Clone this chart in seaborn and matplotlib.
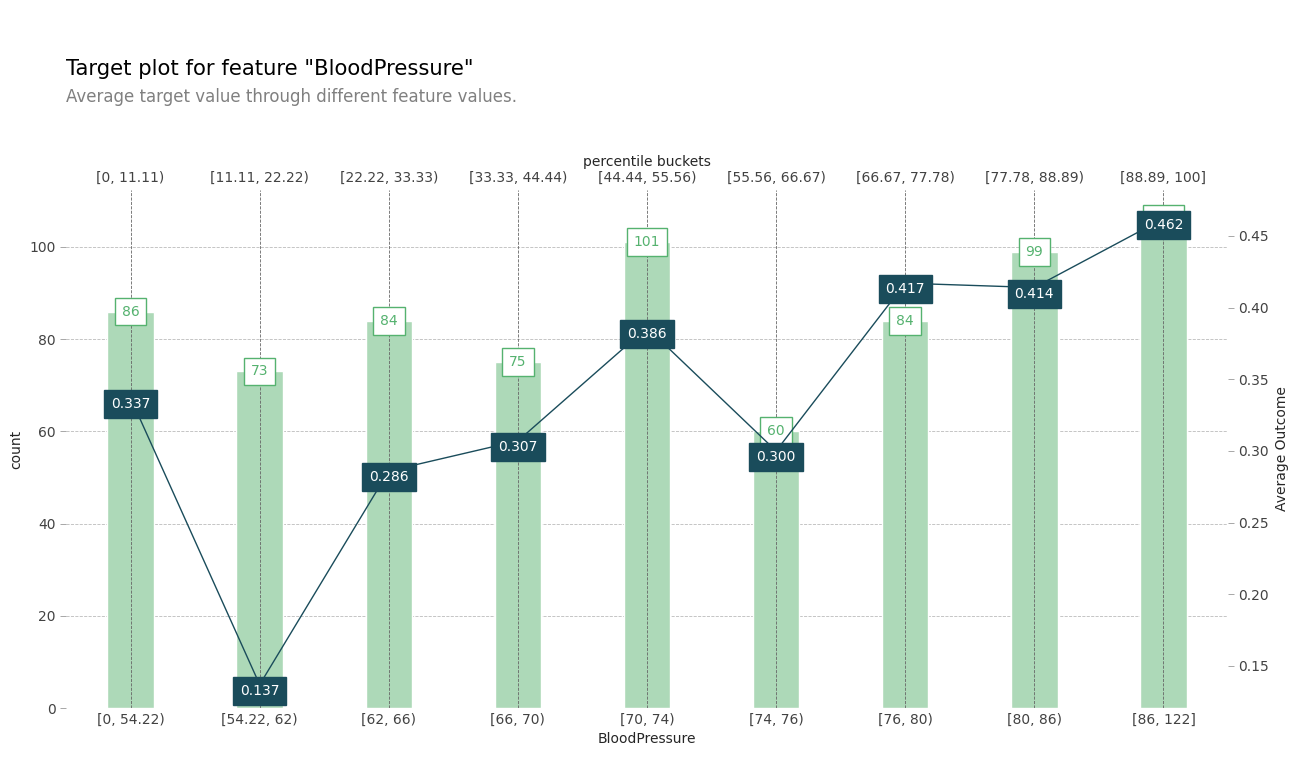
import matplotlib
matplotlib.use("Agg")
import matplotlib.pyplot as plt
import seaborn as sns
import numpy as np

# data
bucket_labels = ["[0, 54.22)", "[54.22, 62)", "[62, 66)", "[66, 70)", "[70, 74)",
                 "[74, 76)", "[76, 80)", "[80, 86)", "[86, 122]"]
percentile_labels = ["[0, 11.11)", "[11.11, 22.22)", "[22.22, 33.33)", "[33.33, 44.44)",
                     "[44.44, 55.56)", "[55.56, 66.67)", "[66.67, 77.78)", "[77.78, 88.89)",
                     "[88.89, 100]"]
counts = [86, 73, 84, 75, 101, 60, 84, 99, 106]
avg_outcome = [0.337, 0.137, 0.286, 0.307, 0.386, 0.300, 0.417, 0.414, 0.462]

sns.set_style("white")
plt.rcParams['font.family'] = ['DejaVu Sans']

BAR = "#ADD9B8"
GREEN = "#55B26F"
DARK = "#1A4C5B"
TICK = "#424242"

fig = plt.figure(figsize=(12.98, 7.61), dpi=100)
fig.text(66/1298, 1-69/761, 'Target plot for feature "BloodPressure"', fontsize=15.2,
         color="black", va="center", ha="left")
fig.text(66/1298, 1-97/761, "Average target value through different feature values.",
         fontsize=12, color="grey", va="center", ha="left")

ax = fig.add_axes([66/1298, 1-708/761, 1162/1298, (708-190)/761])
x = np.arange(len(counts))
sns.barplot(x=x, y=counts, ax=ax, color=BAR, saturation=1, width=0.36, zorder=2)
ax.set_xlim(-0.5, len(counts) - 0.5)
ax.set_ylim(0, max(counts) * 1.06)
ax.set_xticks(x)
ax.set_xticklabels(bucket_labels)
ax.set_xlabel("BloodPressure", fontsize=10)
ax.set_ylabel("count", fontsize=10)
ax.set_yticks([0, 20, 40, 60, 80, 100])
ax.tick_params(axis="both", labelsize=10, colors=TICK, length=4, width=0.6)
ax.tick_params(axis="x", length=0)
ax.tick_params(axis="y", color="#999999")
ax.grid(axis="y", linestyle="--", color="#bbbbbb", linewidth=0.6, zorder=0)
for xi in x:
    ax.axvline(xi, linestyle="--", color="#666666", linewidth=0.6, zorder=3)
for s in ax.spines.values():
    s.set_visible(False)
for xi, c in zip(x, counts):
    ax.text(xi, c, str(c), ha="center", va="center", color=GREEN, fontsize=10, zorder=4,
            bbox=dict(facecolor="white", edgecolor=GREEN, boxstyle="square,pad=0.5", linewidth=1))

top = ax.secondary_xaxis("top")
top.set_xticks(x)
top.set_xticklabels(percentile_labels)
top.set_xlabel("percentile buckets", fontsize=10)
top.tick_params(axis="x", labelsize=10, colors=TICK, length=0)
for s in top.spines.values():
    s.set_visible(False)

ax2 = ax.twinx()
sns.lineplot(x=x, y=avg_outcome, ax=ax2, color=DARK, linewidth=1)
ax2.set_ylim(0.1207, 0.482)
ax2.set_yticks([0.15, 0.20, 0.25, 0.30, 0.35, 0.40, 0.45])
ax2.set_yticklabels(["0.15", "0.20", "0.25", "0.30", "0.35", "0.40", "0.45"])
ax2.set_ylabel("Average Outcome", fontsize=10)
ax2.tick_params(axis="y", labelsize=10, colors=TICK, length=4, width=0.6, color="#999999")
for s in ax2.spines.values():
    s.set_visible(False)
for xi, v in zip(x, avg_outcome):
    ax2.annotate(f"{v:.3f}", xy=(xi, v), xytext=(0, -4.5), textcoords="offset points",
                 ha="center", va="center", color="white", fontsize=10,
                 bbox=dict(facecolor=DARK, edgecolor=DARK, boxstyle="square,pad=0.5"))
ax.set_xlim(-0.5, len(counts) - 0.5)

fig.savefig("out.png", dpi=100)
